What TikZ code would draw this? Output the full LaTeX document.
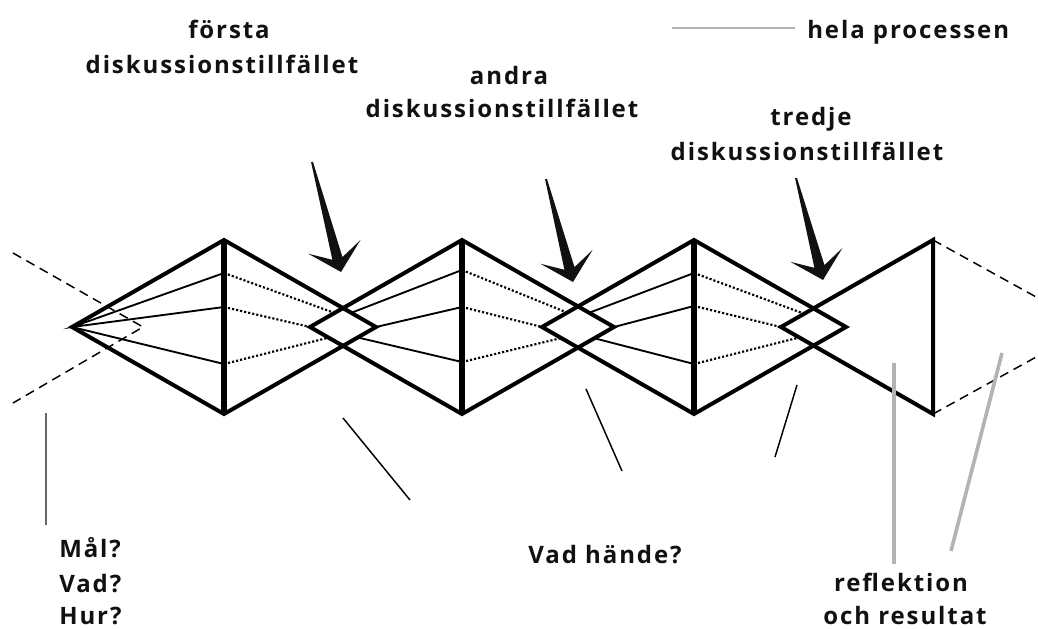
\documentclass[tikz,border=0pt]{standalone}
\usepackage{fontspec}
\setmainfont{Open Sans}[LetterSpace=8]
\usetikzlibrary{calc}

\definecolor{softgrey}{HTML}{B3B3B3}
\definecolor{midgrey}{HTML}{666666}
\definecolor{inkblack}{HTML}{111111}

% tapered arrow with a barbed head: #1 = tail, #2 = tip
\newcommand\spikearrow[2]{%
  \fill[inkblack] (#2)
    -- ($(#2)!19.5pt!(#1)!20.25pt!90:(#1)$)
    -- ($(#2)!10.5pt!(#1)!3.9pt!90:(#1)$)
    -- ($(#1)!0.7pt!-90:(#2)$)
    -- ($(#1)!0.7pt!90:(#2)$)
    -- ($(#2)!10.5pt!(#1)!3.9pt!-90:(#1)$)
    -- ($(#2)!19.5pt!(#1)!20.25pt!-90:(#1)$)
    -- cycle;}

\begin{document}
\begin{tikzpicture}[x=0.75pt,y=-0.75pt,
  edge/.style={line width=3pt, line join=miter},
  post/.style={line width=4.6pt},
  endpost/.style={line width=3.4pt},
  ray/.style={line width=1.4pt},
  dotray/.style={line width=1.6pt, dash pattern=on 1.6pt off 1.5pt},
  guide/.style={line width=1.1pt, dash pattern=on 7pt off 4.5pt},
  pointer/.style={line width=1.1pt},
  greybar/.style={line width=2.7pt, color=softgrey},
  lbl/.style={font=\fontsize{18}{22}\selectfont\bfseries, text=inkblack, inner sep=0pt}
]
\fill[white] (0,0) rectangle (1038,628);
\useasboundingbox (0,0) rectangle (1038,628);

% rhombus corners
\coordinate (L1) at (72,327);  \coordinate (T1) at (224,240);
\coordinate (R1) at (376,327); \coordinate (B1) at (224,414);
\coordinate (L2) at (310,327); \coordinate (T2) at (462,240);
\coordinate (R2) at (614,327); \coordinate (B2) at (462,414);
\coordinate (L3) at (542,327); \coordinate (T3) at (694,240);
\coordinate (R3) at (846,327); \coordinate (B3) at (694,414);
\coordinate (L4) at (781,327); \coordinate (T4) at (933,240);
\coordinate (B4) at (933,414);

% small overlap diamonds
\coordinate (X1t) at (intersection of T1--R1 and L2--T2);
\coordinate (X1b) at (intersection of B1--R1 and L2--B2);
\coordinate (X2t) at (intersection of T2--R2 and L3--T3);
\coordinate (X2b) at (intersection of B2--R2 and L3--B3);
\coordinate (X3t) at (intersection of T3--R3 and L4--T4);
\coordinate (X3b) at (intersection of B3--R3 and L4--B4);

% points on the posts where the rays meet
\coordinate (P1a) at (224,273); \coordinate (P1b) at (224,307); \coordinate (P1c) at (224,364);
\coordinate (P2a) at (462,270); \coordinate (P2b) at (462,307); \coordinate (P2c) at (462,362);
\coordinate (P3a) at (694,273); \coordinate (P3b) at (694,306); \coordinate (P3c) at (694,364);

% where the rays of each crossing converge
\coordinate (M1a) at (343,316); \coordinate (M1c) at (343,334);
\coordinate (M2a) at (578,317); \coordinate (M2c) at (578,334);
\coordinate (M3a) at (813,317); \coordinate (M3c) at (813,334);

% dashed continuation before and after
\coordinate (gl1) at (13,253); \coordinate (gl2) at (13,403); \coordinate (glx) at (143,327);
\coordinate (gr1) at (1038,298); \coordinate (gr2) at (1038,356);
\draw[guide] (gl1) -- (glx) -- (gl2);
\draw[guide] (T4) -- (gr1);
\draw[guide] (B4) -- (gr2);

% rays of the first unit
\draw[ray] (P1a) -- (L1) -- (P1b);
\draw[ray] (L1) -- (P1c);

% dotted rays leaving each post, solid rays arriving at the next
\draw[dotray] (P1a) -- (M1a);  \draw[dotray] (P1b) -- (L2);  \draw[dotray] (P1c) -- (M1c);
\draw[ray] (M1a) -- (P2a);     \draw[ray] (R1) -- (P2b);     \draw[ray] (M1c) -- (P2c);
\draw[dotray] (P2a) -- (M2a);  \draw[dotray] (P2b) -- (L3);  \draw[dotray] (P2c) -- (M2c);
\draw[ray] (M2a) -- (P3a);     \draw[ray] (R2) -- (P3b);     \draw[ray] (M2c) -- (P3c);
\draw[dotray] (P3a) -- (M3a);  \draw[dotray] (P3b) -- (L4);  \draw[dotray] (P3c) -- (M3c);

% keep the overlap diamonds empty
\fill[white] (L2) -- (X1t) -- (R1) -- (X1b) -- cycle;
\fill[white] (L3) -- (X2t) -- (R2) -- (X2b) -- cycle;
\fill[white] (L4) -- (X3t) -- (R3) -- (X3b) -- cycle;

% outlines
\draw[edge] (L1) -- (T1) -- (R1) -- (B1) -- cycle;
\draw[edge] (L2) -- (T2) -- (R2) -- (B2) -- cycle;
\draw[edge] (L3) -- (T3) -- (R3) -- (B3) -- cycle;
\draw[edge] (L4) -- (T4) -- (B4) -- cycle;
\draw[post] (T1) -- (B1);
\draw[post] (T2) -- (B2);
\draw[post] (T3) -- (B3);
\draw[endpost] (T4) -- (B4);

% arrows to the three discussion sessions
\coordinate (A1s) at (312,162); \coordinate (A1e) at (341,272);
\coordinate (A2s) at (546,179); \coordinate (A2e) at (573,282);
\coordinate (A3s) at (796,178); \coordinate (A3e) at (823,280);
\spikearrow{A1s}{A1e}
\spikearrow{A2s}{A2e}
\spikearrow{A3s}{A3e}

% pointer strokes
\coordinate (p0a) at (46,413);   \coordinate (p0b) at (46,525);
\coordinate (p1a) at (343,418);  \coordinate (p1b) at (410,500);
\coordinate (p2a) at (586,389);  \coordinate (p2b) at (622,471);
\coordinate (p3a) at (797,385);  \coordinate (p3b) at (775,457);
\coordinate (p4a) at (894,363);  \coordinate (p4b) at (894,564);
\coordinate (p5a) at (1002,353); \coordinate (p5b) at (951,551);
\coordinate (k1) at (672,28);    \coordinate (k2) at (795,28);
\draw[pointer, midgrey] (p0a) -- (p0b);
\draw[pointer] (p1a) -- (p1b);
\draw[pointer] (p2a) -- (p2b);
\draw[pointer] (p3a) -- (p3b);
\draw[greybar] (p4a) -- (p4b);
\draw[greybar] (p5a) -- (p5b);
\draw[line width=1.8pt, color=softgrey] (k1) -- (k2);

% labels
\node[lbl, anchor=base west] (key) at (807,38) {hela processen};
\node[lbl, anchor=base] (f1a) at (229,38) {första};
\node[lbl, anchor=base] (f1b) at (222,73) {diskussionstillfället};
\node[lbl, anchor=base] (f2a) at (509,84) {andra};
\node[lbl, anchor=base] (f2b) at (502,117) {diskussionstillfället};
\node[lbl, anchor=base] (f3a) at (811,125) {tredje};
\node[lbl, anchor=base] (f3b) at (807,160) {diskussionstillfället};
\node[lbl, anchor=base west] (q1) at (59,557) {Mål?};
\node[lbl, anchor=base west] (q2) at (59,592) {Vad?};
\node[lbl, anchor=base west] (q3) at (59,624) {Hur?};
\node[lbl, anchor=base] (mid) at (605,563) {Vad hände?};
\node[lbl, anchor=base] (r1) at (901,591) {reflektion};
\node[lbl, anchor=base] (r2) at (905,624) {och resultat};
\end{tikzpicture}
\end{document}
